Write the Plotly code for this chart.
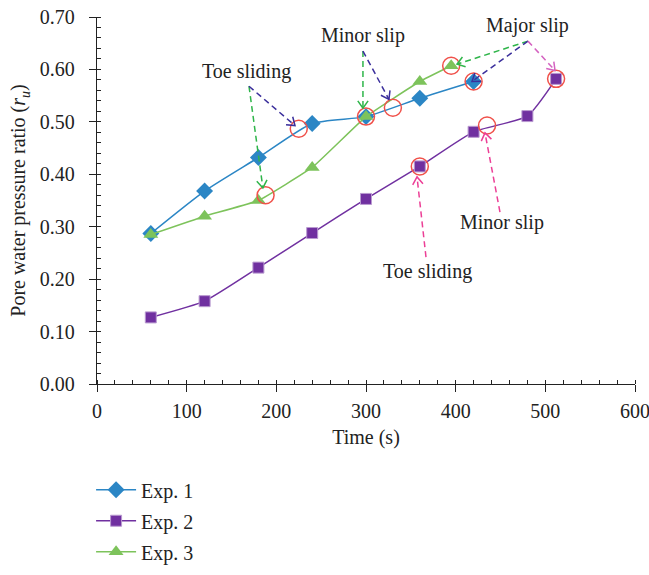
import plotly.graph_objects as go
import math

# ---------------- data ----------------
exp1_t = [60, 120, 180, 240, 300, 360, 420]
exp1_r = [0.287, 0.368, 0.432, 0.497, 0.510, 0.545, 0.577]

exp2_t = [60, 120, 180, 240, 300, 360, 420, 480, 512]
exp2_r = [0.127, 0.158, 0.222, 0.288, 0.353, 0.415, 0.481, 0.511, 0.582]

exp3_t = [60, 120, 180, 240, 300, 360, 395]
exp3_r = [0.285, 0.320, 0.350, 0.413, 0.510, 0.577, 0.607]

events_t = [225, 188, 300, 330, 395, 420, 360, 435, 512]
events_r = [0.487, 0.360, 0.510, 0.527, 0.607, 0.577, 0.415, 0.493, 0.582]

# annotation arrows: (x0, y0, x1, y1, colour)
arrows = [
    (169.5, 0.568, 185.0, 0.374, "#2fb54a"),
    (169.5, 0.568, 220.8, 0.493, "#3b2f9c"),
    (296.6, 0.635, 296.6, 0.526, "#2fb54a"),
    (296.6, 0.635, 325.6, 0.543, "#3b2f9c"),
    (480.6, 0.654, 401.5, 0.610, "#2fb54a"),
    (480.6, 0.654, 418.2, 0.577, "#3b2f9c"),
    (480.6, 0.654, 510.8, 0.598, "#d462c0"),
    (366.9, 0.242, 356.9, 0.395, "#ec3f96"),
    (449.4, 0.328, 432.7, 0.479, "#ec3f96"),
]
labels = [
    (167.0, 0.596, "Toe sliding"),
    (296.6, 0.665, "Minor slip"),
    (480.6, 0.684, "Major slip"),
    (369.0, 0.215, "Toe sliding"),
    (451.6, 0.309, "Minor slip"),
]

x_range = [0, 600]
y_range = [0, 0.70]

W, H = 649, 575
ML, MR, MT, MB = 97, 14, 17, 191
PW, PH = W - ML - MR, H - MT - MB
sx = PW / (x_range[1] - x_range[0])
sy = PH / (y_range[1] - y_range[0])

FONT = "Liberation Serif"
FS = 20
TXT = "#222222"

fig = go.Figure()

fig.add_trace(go.Scatter(x=exp1_t, y=exp1_r, name="Exp. 1", mode="lines+markers", legendgroup="g1",
                         line=dict(color="#2b86c5", width=1.5, shape="spline", smoothing=0.6),
                         marker=dict(symbol="diamond", size=13, color="#2b86c5")))
fig.add_trace(go.Scatter(x=exp2_t, y=exp2_r, name="Exp. 2", mode="lines+markers", legendgroup="g2",
                         line=dict(color="#7030a0", width=1.5, shape="spline", smoothing=0.5),
                         marker=dict(symbol="square", size=11, color="#7030a0",
                                     line=dict(color="#b99ad0", width=1))))
fig.add_trace(go.Scatter(x=exp3_t, y=exp3_r, name="Exp. 3", mode="lines+markers", legendgroup="g3",
                         line=dict(color="#7dc35b", width=1.5, shape="spline", smoothing=0.3),
                         marker=dict(symbol="triangle-up", size=13, color="#7dc35b")))

fig.add_trace(go.Scatter(x=events_t, y=events_r, mode="markers", showlegend=False,
                         marker=dict(symbol="circle-open", size=17, color="#f0514a",
                                     line=dict(width=1.5))))

# dashed arrows with open V heads
for x0, y0, x1, y1, c in arrows:
    fig.add_trace(go.Scatter(x=[x0, x1], y=[y0, y1], mode="lines", showlegend=False,
                             hoverinfo="skip", line=dict(color=c, width=1.5, dash="6px,4px")))
    dxp = (x1 - x0) * sx
    dyp = (y1 - y0) * sy
    L = math.hypot(dxp, dyp)
    ux, uy = dxp / L, dyp / L
    hl = 9
    pts = []
    for ang in (math.radians(35), -math.radians(35)):
        rx = -(ux * math.cos(ang) - uy * math.sin(ang)) * hl
        ry = -(ux * math.sin(ang) + uy * math.cos(ang)) * hl
        pts.append((x1 + rx / sx, y1 + ry / sy))
    fig.add_trace(go.Scatter(x=[pts[0][0], x1, pts[1][0]], y=[pts[0][1], y1, pts[1][1]],
                             mode="lines", showlegend=False, hoverinfo="skip",
                             line=dict(color=c, width=1.5)))

for lx, ly, txt in labels:
    fig.add_annotation(x=lx, y=ly, text=txt, showarrow=False,
                       font=dict(family=FONT, size=FS, color=TXT))

axis_common = dict(showgrid=False, zeroline=False, showline=True, linecolor=TXT,
                   linewidth=1.3, ticks="outside", ticklen=7, tickcolor=TXT, tickwidth=1.3,
                   tickfont=dict(family=FONT, size=FS, color=TXT), automargin=False,
                   ticklabeloverflow="allow")

fig.update_xaxes(range=x_range, dtick=100, tick0=0, ticklabelstandoff=2, **axis_common,
                 title=dict(text="Time (s)", font=dict(family=FONT, size=FS, color=TXT),
                            standoff=8),
                 minor=dict(dtick=20, ticks="inside", ticklen=4, tickcolor=TXT, tickwidth=1.2))
fig.update_yaxes(range=y_range, dtick=0.1, tick0=0, tickformat=".2f", ticklabelstandoff=10,
                 **axis_common,
                 title=dict(text="Pore water pressure ratio (<i>r</i><sub><i>u</i></sub>)",
                            font=dict(family=FONT, size=FS, color=TXT), standoff=8),
                 minor=dict(dtick=0.02, ticks="inside", ticklen=4, tickcolor=TXT, tickwidth=1.2))

# overlay axes so major ticks cross the axis line
fig.update_layout(
    xaxis2=dict(overlaying="x", range=x_range, dtick=100, tick0=0, ticks="inside", ticklen=4,
                tickcolor=TXT, tickwidth=1.3, showticklabels=False, showgrid=False,
                zeroline=False, side="bottom", anchor="y", automargin=False),
    yaxis2=dict(overlaying="y", range=y_range, dtick=0.1, tick0=0, ticks="inside", ticklen=4,
                tickcolor=TXT, tickwidth=1.3, showticklabels=False, showgrid=False,
                zeroline=False, side="left", anchor="x", automargin=False),
)
fig.add_trace(go.Scatter(x=[None], y=[None], xaxis="x2", yaxis="y2", showlegend=False))

fig.update_layout(
    width=W, height=H,
    margin=dict(l=ML, r=MR, t=MT, b=MB, autoexpand=False),
    plot_bgcolor="white", paper_bgcolor="white",
    showlegend=True,
    legend=dict(x=-0.011, y=-0.235, xanchor="left", yanchor="top",
                font=dict(family=FONT, size=FS, color=TXT),
                bgcolor="rgba(0,0,0,0)", tracegroupgap=2, itemwidth=40),
)

fig.write_html("out.html")
